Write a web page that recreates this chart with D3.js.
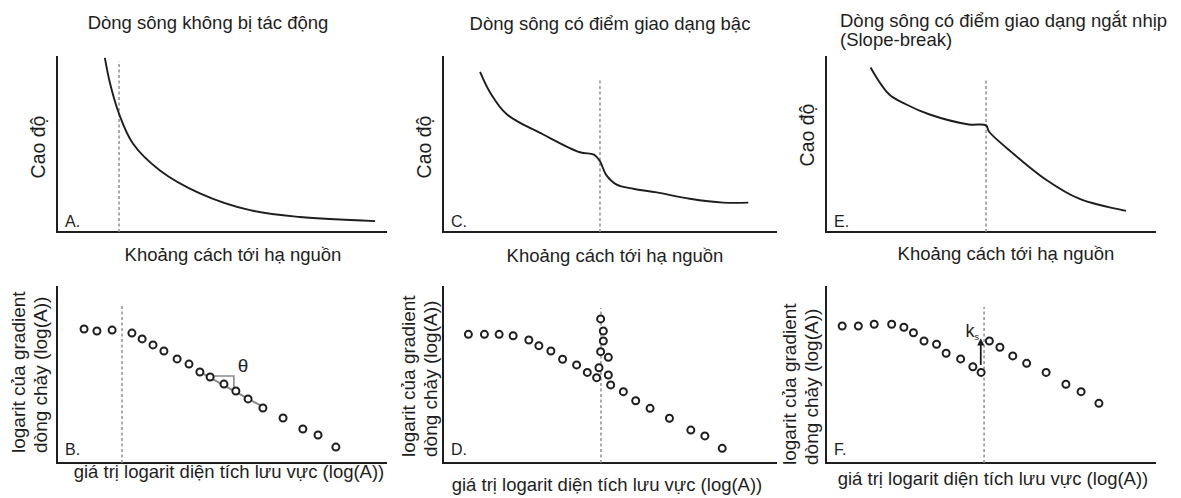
<!DOCTYPE html>
<html>
<head>
<meta charset="utf-8">
<script src="https://cdn.jsdelivr.net/npm/d3@7"></script>
<style>
  html, body { margin: 0; padding: 0; background: #fff; }
  svg text { font-family: "Liberation Sans", Arial, sans-serif; fill: #1e1e1e; }
</style>
</head>
<body>
<svg id="chart" width="1181" height="498"></svg>
<script>
// long profiles (distance downstream %, elevation %)
const profileA = [[14.5,98.9],[16.1,84.2],[18.8,67.2],[23.0,50.3],[31.2,35.0],[43.3,22.0],[58.5,12.4],[73.6,8.5],[96.4,6.2]];
const profileC = [[11.1,91.0],[14.1,79.3],[19.1,66.9],[30.0,55.4],[41.0,45.3],[45.2,44.0],[47.0,40.2],[48.8,32.6],[52.0,26.9],[57.0,24.6],[64.0,22.5],[73.9,18.9],[83.9,16.7],[91.4,16.7]];
const profileE = [[13.5,93.5],[19.1,78.3],[24.2,72.6],[31.2,66.9],[43.3,61.1],[48.5,60.6],[49.4,57.1],[56.4,45.1],[66.7,29.7],[76.7,18.9],[90.9,12.0]];

// slope-area plots (log area %, log gradient %)
const slopeB = [[8.2,75.7],[12.1,74.6],[16.7,75.1],[22.7,73.4],[25.8,70.1],[29.1,66.7],[32.4,63.3],[36.4,58.8],[40.0,55.9],[43.3,51.4],[46.4,48.6],[50.6,44.6],[54.2,40.7],[57.9,36.2],[62.4,31.1],[68.5,25.4],[74.5,19.2],[79.1,15.8],[84.5,9.0]];
const slopeD = [[7.6,72.7],[12.4,72.7],[16.8,72.7],[21.0,71.9],[25.7,69.5],[28.7,66.3],[32.3,63.3],[35.8,58.6],[40.0,55.4],[43.2,51.2],[46.0,48.2],[46.7,53.8],[47.2,62.9],[48.0,68.9],[48.0,74.6],[47.2,81.4],[49.5,59.7],[49.5,49.7],[50.2,44.1],[54.0,40.3],[57.7,35.2],[62.0,30.9],[67.8,25.3],[74.2,18.6],[78.4,15.3],[83.6,8.3]];
const slopeF = [[4.9,77.4],[9.8,77.4],[14.6,78.4],[19.9,78.4],[23.6,76.7],[26.5,73.6],[29.7,68.9],[33.5,67.1],[36.4,62.0],[40.8,58.8],[44.5,54.4],[47.0,51.2],[49.5,68.9],[52.7,65.4],[56.6,60.5],[60.8,56.3],[66.7,51.2],[72.7,44.5],[77.3,40.3],[82.7,33.7]];

// knickpoint positions [x, top of dashed line]
const knickTop = [[18.8,97],[47.0,87],[48.5,87.4]];
const knickBot = [[19.7,89.3],[47.3,87.6],[47.9,88.1]];

// fitted slope segment in B and the steepness arrow in F
const fitB = [[42.7,52.0],[63.0,31.1]];
const thetaX = [45.5,53.6];
const ksArrow = [[46.9,55.4],[46.9,68.4]];

const titles = [["Dòng sông không bị tác động"], ["Dòng sông có điểm giao dạng bậc"], ["Dòng sông có điểm giao dạng ngắt nhịp", "(Slope-break)"]];
const topLetters = ["A.", "C.", "E."];
const botLetters = ["B.", "D.", "F."];
const xLabelTop = "Khoảng cách tới hạ nguồn";
const yLabelTop = "Cao độ";
const xLabelBot = "giá trị logarit diện tích lưu vực (log(A))";
const yLabelBot = ["logarit của gradient", "dòng chảy (log(A))"];

const svg = d3.select("#chart");
const cols = [{x0:57, x1:387}, {x0:443, x1:777}, {x0:826, x1:1156}];
const topRow = {y0:56, y1:232}, botRow = {y0:286, y1:463};
const ink = "#1e1e1e";

function axes(g, x, y) {
  g.append("path")
    .attr("d", `M${x(0)},${y(100)}V${y(0)}H${x(100)}`)
    .attr("fill", "none").attr("stroke", ink).attr("stroke-width", 2);
}

function dashed(g, x, y, k) {
  g.append("line")
    .attr("x1", x(k[0])).attr("x2", x(k[0]))
    .attr("y1", y(0)).attr("y2", y(k[1]))
    .attr("stroke", "#8a8a8a").attr("stroke-width", 1.4)
    .attr("stroke-dasharray", "3,2.5");
}

const profiles = [profileA, profileC, profileE];
const slopes = [slopeB, slopeD, slopeF];

// top row: long profiles
cols.forEach(function(c, i) {
  const x = d3.scaleLinear().domain([0, 100]).range([c.x0, c.x1]);
  const y = d3.scaleLinear().domain([0, 100]).range([topRow.y1, topRow.y0]);
  const g = svg.append("g");
  axes(g, x, y);
  dashed(g, x, y, knickTop[i]);
  g.append("path")
    .datum(profiles[i])
    .attr("d", d3.line().x(d => x(d[0])).y(d => y(d[1])).curve(d3.curveCatmullRom.alpha(0.5)))
    .attr("fill", "none").attr("stroke", ink).attr("stroke-width", 1.9);
  g.append("text").attr("x", c.x0 + 8).attr("y", topRow.y1 - 5)
    .attr("font-size", 16).text(topLetters[i]);
});

// top titles
svg.append("text").attr("x", 208).attr("y", 29).attr("text-anchor", "middle")
  .attr("font-size", 18.5).text(titles[0][0]);
svg.append("text").attr("x", 610).attr("y", 30).attr("text-anchor", "middle")
  .attr("font-size", 18.5).text(titles[1][0]);
svg.append("text").attr("x", 840).attr("y", 27).attr("font-size", 18.5).text(titles[2][0]);
svg.append("text").attr("x", 840).attr("y", 46).attr("font-size", 18.5).text(titles[2][1]);

// top axis labels
[[233, 261], [615, 262], [1006, 260]].forEach(function(p) {
  svg.append("text").attr("x", p[0]).attr("y", p[1]).attr("text-anchor", "middle")
    .attr("font-size", 18.5).text(xLabelTop);
});
[[45, 147], [431, 147], [814, 135]].forEach(function(p) {
  svg.append("text").attr("transform", `translate(${p[0]},${p[1]}) rotate(-90)`)
    .attr("text-anchor", "middle").attr("font-size", 19.5).text(yLabelTop);
});

// bottom row: slope-area plots
cols.forEach(function(c, i) {
  const x = d3.scaleLinear().domain([0, 100]).range([c.x0, c.x1]);
  const y = d3.scaleLinear().domain([0, 100]).range([botRow.y1, botRow.y0]);
  const g = svg.append("g");
  axes(g, x, y);
  dashed(g, x, y, knickBot[i]);

  if (i === 0) {
    g.append("line")
      .attr("x1", x(fitB[0][0])).attr("y1", y(fitB[0][1]))
      .attr("x2", x(fitB[1][0])).attr("y2", y(fitB[1][1]))
      .attr("stroke", "#8a8a8a").attr("stroke-width", 2);
    const fy = d3.scaleLinear().domain([fitB[0][0], fitB[1][0]]).range([fitB[0][1], fitB[1][1]]);
    g.append("path")
      .attr("d", `M${x(thetaX[0])},${y(fy(thetaX[0]))}H${x(thetaX[1])}V${y(fy(thetaX[1]))}`)
      .attr("fill", "none").attr("stroke", "#8a8a8a").attr("stroke-width", 1.6);
    g.append("text").attr("x", x(56.4)).attr("y", y(51.2)).attr("text-anchor", "middle")
      .attr("font-size", 19).text("θ");
  }

  g.selectAll("circle").data(slopes[i]).join("circle")
    .attr("cx", d => x(d[0])).attr("cy", d => y(d[1])).attr("r", 3.5)
    .attr("fill", "#fff").attr("stroke", ink).attr("stroke-width", 2);

  if (i === 2) {
    svg.append("defs").append("marker")
      .attr("id", "head").attr("viewBox", "0 0 10 10").attr("refX", 5).attr("refY", 5)
      .attr("markerWidth", 4).attr("markerHeight", 5).attr("orient", "auto")
      .append("path").attr("d", "M0,0L10,5L0,10Z").attr("fill", ink);
    g.append("line")
      .attr("x1", x(ksArrow[0][0])).attr("y1", y(ksArrow[0][1]))
      .attr("x2", x(ksArrow[1][0])).attr("y2", y(ksArrow[1][1]))
      .attr("stroke", ink).attr("stroke-width", 1.8).attr("marker-end", "url(#head)");
    const k = g.append("text").attr("x", x(42.3)).attr("y", y(71)).attr("font-size", 18);
    k.append("tspan").text("k");
    k.append("tspan").attr("font-size", 9).attr("dy", 3).text("s");
  }

  g.append("text").attr("x", c.x0 + 8).attr("y", botRow.y1 - 8)
    .attr("font-size", 16).text(botLetters[i]);
});

// bottom axis labels
[[229, 478], [607, 491], [993, 485]].forEach(function(p) {
  svg.append("text").attr("x", p[0]).attr("y", p[1]).attr("text-anchor", "middle")
    .attr("font-size", 18.5).text(xLabelBot);
});
[[25, 47, 453], [415, 437, 457], [796, 818, 465]].forEach(function(p) {
  svg.append("text").attr("transform", `translate(${p[0]},${p[2]}) rotate(-90)`)
    .attr("font-size", 19).text(yLabelBot[0]);
  svg.append("text").attr("transform", `translate(${p[1]},${p[2]}) rotate(-90)`)
    .attr("font-size", 19).text(yLabelBot[1]);
});
</script>
</body>
</html>
